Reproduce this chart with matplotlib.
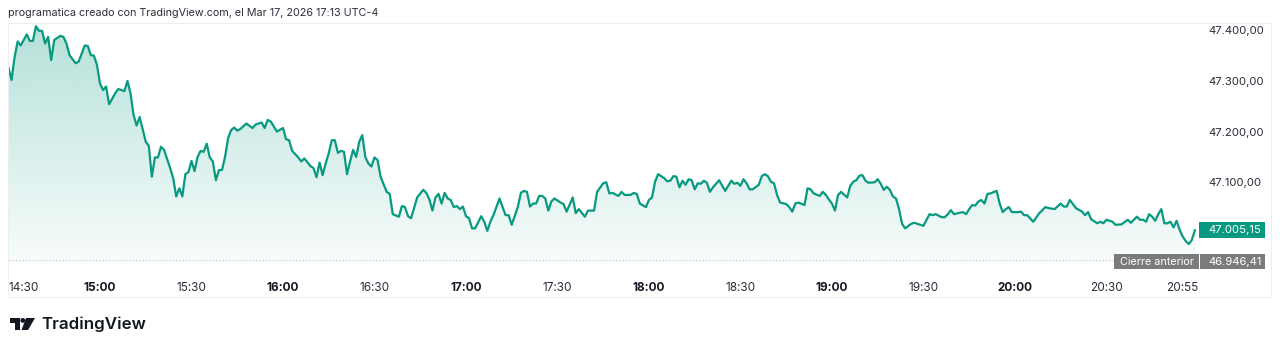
import numpy as np
import matplotlib.pyplot as plt
from matplotlib.patches import Rectangle, Circle, Polygon
from matplotlib.transforms import Affine2D, blended_transform_factory
from matplotlib.colors import to_rgb

plt.rcParams['font.family'] = ['Inter', 'DejaVu Sans']

# minutes after 14:30 and price at that minute
minutes = [
    0, 1, 2, 3, 4, 6, 7, 8, 9, 10, 11, 12, 13, 14, 15, 17, 18, 19, 20, 22,
    23, 25, 26, 27, 28, 29, 30, 31, 32, 33, 35, 36, 38, 39, 40, 41, 42, 43, 45, 46,
    47, 48, 49, 50, 51, 53, 54, 55, 56, 57, 58, 59, 60, 61, 62, 63, 64, 65, 66, 67,
    68, 69, 70, 71, 72, 73, 74, 75, 76, 78, 80, 81, 83, 84, 85, 86, 88, 90, 91, 92,
    93, 95, 96, 97, 99, 100, 101, 102, 103, 104, 105, 106, 107, 108, 109, 110, 111, 112, 113, 114,
    115, 116, 117, 118, 119, 120, 121, 122, 124, 125, 126, 128, 129, 130, 131, 132, 134, 136, 137, 138,
    139, 140, 141, 142, 143, 144, 145, 146, 147, 148, 149, 150, 151, 152, 153, 155, 156, 157, 158, 159,
    161, 162, 163, 164, 165, 167, 168, 169, 170, 171, 172, 173, 174, 175, 176, 177, 178, 179, 181, 182,
    183, 185, 186, 187, 189, 190, 192, 193, 195, 196, 197, 198, 200, 201, 202, 204, 205, 206, 207, 209,
    210, 211, 212, 213, 215, 216, 217, 218, 219, 220, 221, 222, 223, 224, 225, 226, 227, 228, 229, 230,
    231, 233, 235, 237, 238, 239, 240, 241, 242, 243, 244, 246, 247, 248, 249, 250, 251, 252, 253, 255,
    256, 257, 258, 259, 261, 262, 263, 264, 266, 267, 268, 269, 270, 271, 272, 273, 275, 276, 277, 278,
    279, 280, 281, 282, 284, 285, 286, 287, 288, 289, 290, 291, 292, 293, 294, 296, 297, 299, 300, 302,
    303, 304, 306, 307, 308, 309, 310, 312, 313, 314, 315, 316, 317, 318, 319, 320, 321, 322, 324, 325,
    326, 327, 328, 329, 331, 332, 333, 334, 336, 338, 340, 341, 343, 345, 346, 347, 348, 349, 350, 352,
    353, 354, 355, 357, 358, 359, 360, 361, 362, 363, 365, 367, 368, 370, 371, 372, 373, 374, 375, 376,
    377, 378, 379, 380, 381, 382, 383, 384, 385, 386, 387, 388, 389,
]
prices = [
    47326, 47302, 47347, 47378, 47370, 47392, 47379, 47379, 47408, 47399, 47399, 47374, 47387, 47341, 47381, 47389, 47387, 47374, 47351, 47335,
    47338, 47370, 47369, 47351, 47350, 47332, 47295, 47282, 47289, 47254, 47276, 47284, 47280, 47300, 47276, 47233, 47212, 47229, 47180, 47172,
    47111, 47149, 47149, 47170, 47164, 47128, 47108, 47072, 47088, 47072, 47116, 47120, 47142, 47122, 47150, 47162, 47160, 47176, 47149, 47141,
    47104, 47124, 47124, 47150, 47187, 47203, 47208, 47202, 47205, 47216, 47207, 47214, 47218, 47207, 47223, 47220, 47200, 47207, 47185, 47183,
    47162, 47149, 47141, 47147, 47132, 47128, 47110, 47139, 47114, 47137, 47157, 47183, 47183, 47158, 47162, 47160, 47116, 47141, 47164, 47150,
    47180, 47193, 47150, 47137, 47131, 47149, 47144, 47111, 47081, 47077, 47037, 47032, 47053, 47051, 47033, 47029, 47070, 47085, 47079, 47066,
    47044, 47070, 47077, 47058, 47079, 47068, 47065, 47051, 47053, 47047, 47052, 47033, 47029, 47009, 47009, 47033, 47022, 47004, 47022, 47035,
    47068, 47051, 47035, 47035, 47016, 47051, 47079, 47083, 47081, 47052, 47058, 47058, 47073, 47073, 47068, 47044, 47062, 47068, 47060, 47057,
    47042, 47070, 47039, 47047, 47032, 47044, 47044, 47081, 47098, 47100, 47078, 47079, 47073, 47081, 47075, 47075, 47079, 47077, 47058, 47051,
    47065, 47070, 47101, 47116, 47108, 47102, 47103, 47112, 47111, 47090, 47103, 47095, 47106, 47104, 47086, 47098, 47097, 47103, 47099, 47081,
    47090, 47104, 47083, 47103, 47097, 47099, 47093, 47106, 47098, 47086, 47086, 47095, 47112, 47116, 47112, 47101, 47098, 47075, 47060, 47057,
    47051, 47042, 47058, 47060, 47055, 47088, 47086, 47078, 47073, 47081, 47075, 47066, 47058, 47044, 47075, 47081, 47070, 47093, 47101, 47104,
    47113, 47114, 47103, 47099, 47100, 47106, 47097, 47085, 47091, 47085, 47072, 47068, 47047, 47018, 47009, 47018, 47020, 47016, 47014, 47037,
    47035, 47037, 47031, 47031, 47037, 47045, 47037, 47040, 47041, 47037, 47047, 47055, 47054, 47062, 47065, 47058, 47077, 47078, 47083, 47058,
    47041, 47047, 47051, 47041, 47041, 47042, 47035, 47035, 47022, 47039, 47051, 47049, 47047, 47058, 47052, 47052, 47065, 47057, 47049, 47042,
    47035, 47041, 47027, 47019, 47022, 47019, 47026, 47024, 47022, 47016, 47017, 47026, 47020, 47032, 47026, 47026, 47022, 47037, 47032, 47024,
    47037, 47047, 47019, 47019, 47022, 47011, 47024, 47006, 46993, 46984, 46978, 46986, 47005.15,
]
prev_close = 46946.41

tick_minutes = [0, 30, 60, 90, 120, 150, 180, 210, 240, 270, 300, 330, 360, 385]
tick_labels = ['14:30', '15:00', '15:30', '16:00', '16:30', '17:00', '17:30',
               '18:00', '18:30', '19:00', '19:30', '20:00', '20:30', '20:55']
price_ticks = [47100, 47200, 47300, 47400]

title = 'programatica creado con TradingView.com, el Mar 17, 2026 17:13 UTC-4'


def es(v):
    # 47,400.00 -> 47.400,00
    return f'{v:,.2f}'.replace(',', '_').replace('.', ',').replace('_', '.')


W, H = 1280, 349
green = '#089981'
text_c = '#2a2e39'
x_max = 389.7
y_lo, y_hi = 46940.6, 47414.4

fig = plt.figure(figsize=(W / 100, H / 100), dpi=100)
ax = fig.add_axes([8.5 / W, 1 - 263 / H, (1197 - 8.5) / W, (263 - 23) / H])

x = np.array(minutes, dtype=float)
y = np.array(prices, dtype=float)

# gradient area under the line
poly = ax.fill_between(x, y, y_lo, color='none', lw=0)
rgba = np.zeros((256, 1, 4))
rgba[..., :3] = to_rgb(green)
rgba[:, 0, 3] = np.linspace(0.03, 0.30, 256)
im = ax.imshow(rgba, extent=[0, x_max, y_lo, y_hi], origin='lower',
               aspect='auto', zorder=1, interpolation='bilinear')
im.set_clip_path(poly.get_paths()[0], transform=ax.transData)

ax.plot(x, y, color=green, lw=1.6, zorder=3, solid_joinstyle='round')
ax.axhline(prev_close, color='#c3c6ce', lw=0.8, ls=(0, (1, 2)), zorder=2)

ax.set_xlim(0, x_max)
ax.set_ylim(y_lo, y_hi)
for s in ax.spines.values():
    s.set_visible(False)

ax.set_xticks(tick_minutes)
ax.set_xticklabels(tick_labels)
ax.tick_params(axis='x', length=0, pad=14, labelsize=8.5, labelcolor=text_c)
for lab in ax.get_xticklabels():
    if lab.get_text().endswith(':00'):
        lab.set_fontweight('bold')
        lab.set_color('#131722')
ax.get_xticklabels()[0].set_ha('left')

ax.yaxis.tick_right()
ax.set_yticks(price_ticks)
ax.set_yticklabels([es(v) for v in price_ticks])
ax.tick_params(axis='y', length=0, pad=8, labelsize=8.2, labelcolor=text_c)

# price tags on the right
px_h = (y_hi - y_lo) / 240.0
tr = blended_transform_factory(fig.transFigure, ax.transData)
last = prices[-1]
ax.add_patch(Rectangle((1199 / W, last - 8 * px_h), 66 / W, 16 * px_h,
                       transform=tr, fc=green, ec='none', clip_on=False, zorder=5))
ax.text(1208 / W, last, es(last), transform=tr, color='white', fontsize=8.2,
        va='center', ha='left', zorder=6, clip_on=False)

pc_y = prev_close - 1.5 * px_h
ax.add_patch(Rectangle((1114 / W, pc_y - 7.5 * px_h), 85 / W, 15 * px_h,
                       transform=tr, fc='#7b7b7b', ec='none', clip_on=False, zorder=5))
ax.add_patch(Rectangle((1200 / W, pc_y - 7.5 * px_h), 65 / W, 15 * px_h,
                       transform=tr, fc='#7b7b7b', ec='none', clip_on=False, zorder=5))
ax.text(1156.5 / W, pc_y, 'Cierre anterior', transform=tr, color='white', fontsize=7.8,
        va='center', ha='center', zorder=6, clip_on=False)
ax.text(1208 / W, pc_y, es(prev_close), transform=tr, color='white', fontsize=8.2,
        va='center', ha='left', zorder=6, clip_on=False)

# widget frame, header and logo
px = Affine2D().scale(1 / W, -1 / H).translate(0, 1) + fig.transFigure
fig.add_artist(Rectangle((8, 23), 1263, 274, transform=px, fill=False,
                         ec='#eceef2', lw=0.8))
fig.text(8 / W, 1 - 13 / H, title, fontsize=7.75, color=text_c, va='center', ha='left')

logo_c = '#131722'
fig.add_artist(Rectangle((10, 318), 9.5, 4.5, transform=px, fc=logo_c, ec='none'))
fig.add_artist(Rectangle((14.5, 318), 5, 12, transform=px, fc=logo_c, ec='none'))
fig.add_artist(Circle((22.8, 320.4), 2.4, transform=px, fc=logo_c, ec='none'))
fig.add_artist(Polygon([(26, 318), (35, 318), (28, 330), (21.5, 330)],
                       transform=px, fc=logo_c, ec='none'))
fig.text(41 / W, 1 - 324 / H, 'TradingView', fontsize=12.2, fontweight='semibold',
         color=logo_c, va='center', ha='left')

fig.savefig('out.png', dpi=100, facecolor='white')
